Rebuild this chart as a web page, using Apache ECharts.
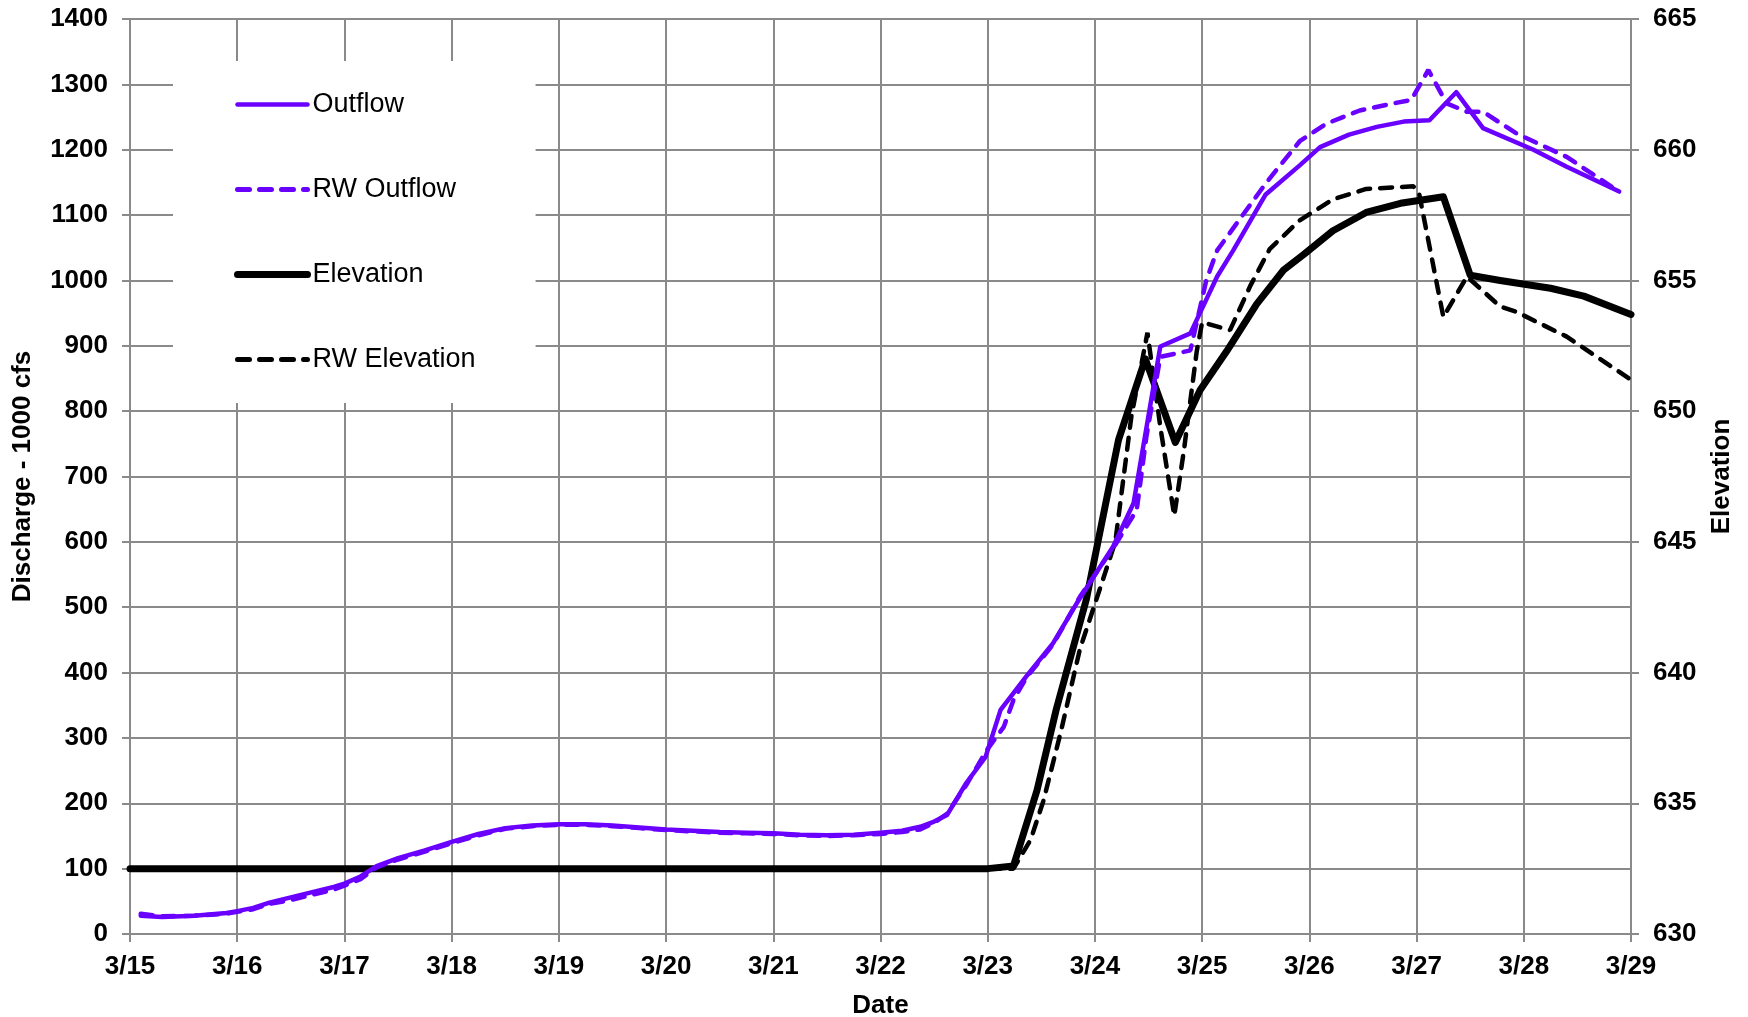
<!DOCTYPE html>
<html>
<head>
<meta charset="utf-8">
<script src="https://cdn.jsdelivr.net/npm/echarts@6/dist/echarts.min.js"></script>
<style>
  html, body { margin: 0; padding: 0; background: #fff; }
  #chart { width: 1748px; height: 1017px; }
</style>
</head>
<body>
<div id="chart"></div>
<script>
// x values are days after 3/15
var dateLabels = ['3/15', '3/16', '3/17', '3/18', '3/19', '3/20', '3/21', '3/22',
  '3/23', '3/24', '3/25', '3/26', '3/27', '3/28', '3/29'];

var outflowDays = [0.1, 0.3, 0.6, 0.9, 1.0, 1.15, 1.3, 1.5, 1.7, 1.9, 2.0, 2.15, 2.3, 2.5, 2.75,
  3.0, 3.25, 3.5, 3.75, 4.0, 4.25, 4.5, 4.75, 5.0, 5.25, 5.5, 5.75, 6.0, 6.25, 6.5, 6.75,
  7.0, 7.2, 7.37, 7.5, 7.62, 7.8, 7.98, 8.12, 8.36, 8.61, 8.83, 9.17, 9.36, 9.61, 9.89,
  10.14, 10.29, 10.59, 10.91, 11.1, 11.37, 11.63, 11.88, 12.12, 12.37, 12.62, 13.09, 13.4, 13.89];
var outflow = [28, 26, 28, 32, 35, 40, 48, 56, 64, 72, 77, 88, 104, 116, 128,
  141, 153, 162, 166, 168, 168, 166, 163, 160, 158, 156, 155, 154, 152, 151, 152,
  155, 158, 164, 172, 182, 231, 271, 343, 394, 445, 506, 593, 659, 899, 919,
  1006, 1046, 1131, 1176, 1204, 1223, 1235, 1243, 1245, 1288, 1233, 1200, 1174, 1136];

var rwOutflowDays = [0.1, 0.3, 0.6, 0.9, 1.0, 1.15, 1.3, 1.5, 1.7, 1.9, 2.0, 2.15, 2.3, 2.5, 2.75,
  3.0, 3.25, 3.5, 3.75, 4.0, 4.25, 4.5, 4.75, 5.0, 5.25, 5.5, 5.75, 6.0, 6.25, 6.5, 6.75,
  7.0, 7.2, 7.37, 7.5, 7.62, 7.8, 7.99, 8.15, 8.24, 8.36, 8.61, 8.86, 9.2, 9.39, 9.48, 9.61, 9.89,
  10.04, 10.14, 10.6, 10.91, 11.16, 11.47, 11.82, 11.95, 12.11, 12.28, 12.47, 12.62, 12.93, 13.4, 13.87];
var rwOutflow = [31, 27, 28, 31, 34, 38, 46, 52, 60, 68, 74, 84, 102, 114, 126,
  139, 151, 161, 165, 167, 167, 165, 162, 159, 157, 155, 154, 153, 151, 150, 151,
  153, 156, 160, 170, 184, 228, 281, 317, 358, 392, 443, 516, 598, 649, 761, 883, 893,
  1001, 1046, 1150, 1213, 1240, 1260, 1272, 1276, 1322, 1271, 1258, 1258, 1225, 1189, 1138];

var elevationDays = [0, 8.0, 8.24, 8.46, 8.64, 8.92, 9.22, 9.47, 9.75, 9.98, 10.23, 10.51, 10.76,
  10.95, 11.22, 11.53, 11.85, 12.25, 12.5, 12.78, 13.25, 13.56, 14.0];
var elevation = [632.5, 632.5, 632.6, 635.5, 638.6, 642.8, 648.9, 652.0, 648.8, 650.8, 652.3, 654.1, 655.4,
  656.0, 656.9, 657.6, 657.95, 658.2, 655.2, 655.0, 654.7, 654.4, 653.7];

var rwElevationDays = [0, 8.24, 8.4, 8.52, 8.68, 8.86, 9.03, 9.19, 9.34, 9.49, 9.61, 9.74, 9.83, 9.95,
  10.0, 10.26, 10.45, 10.63, 10.91, 11.22, 11.53, 11.97, 12.02, 12.25, 12.47, 12.78, 12.93, 13.4, 14.0];
var rwElevation = [632.5, 632.5, 633.6, 635.1, 637.7, 640.9, 643.0, 645.0, 649.8, 653.0, 649.4, 646.0, 648.5, 652.3,
  653.4, 653.1, 654.8, 656.2, 657.3, 658.1, 658.5, 658.6, 658.4, 653.6, 655.15, 654.0, 653.8, 652.85, 651.2];

function pairs(xs, ys) {
  return xs.map(function (x, i) { return [x, ys[i]]; });
}

var purple = '#6a00ff';
var gridColor = '#8a8a8a';
var fontFam = '"Liberation Sans", Arial, sans-serif';
var dash = [12, 10];

var chart = echarts.init(document.getElementById('chart'));

var tickFont = { fontFamily: fontFam, fontSize: 26, fontWeight: 'bold', color: '#000' };
var nameFont = { fontFamily: fontFam, fontSize: 26, fontWeight: 'bold', color: '#000' };

var option = {
  backgroundColor: '#fff',
  animation: false,
  grid: { left: 130, right: 117, top: 19, bottom: 83, outerBoundsMode: 'none' },
  legend: {
    orient: 'vertical',
    left: 173,
    top: 61,
    padding: [30, 60, 30, 61],
    backgroundColor: '#fff',
    itemWidth: 70,
    itemHeight: 14,
    itemGap: 58,
    itemStyle: { opacity: 0 },
    textStyle: { fontFamily: fontFam, fontSize: 27, color: '#000' },
    data: [
      { name: 'Outflow', lineStyle: { width: 4.5 } },
      { name: 'RW Outflow', lineStyle: { width: 5 } },
      { name: 'Elevation', lineStyle: { width: 7 } },
      { name: 'RW Elevation', lineStyle: { width: 5 } }
    ]
  },
  xAxis: {
    type: 'value',
    min: 0,
    max: 14,
    interval: 1,
    name: 'Date',
    nameLocation: 'middle',
    nameGap: 59,
    nameTextStyle: nameFont,
    axisLine: { lineStyle: { color: gridColor, width: 2 } },
    axisTick: { show: true, length: 8, lineStyle: { color: gridColor, width: 2 } },
    axisLabel: Object.assign({
      margin: 20,
      formatter: function (v) { return dateLabels[Math.round(v)]; }
    }, tickFont),
    splitLine: { show: true, lineStyle: { color: gridColor, width: 2 } }
  },
  yAxis: [{
    type: 'value',
    min: 0,
    max: 1400,
    interval: 100,
    name: 'Discharge - 1000 cfs',
    nameLocation: 'middle',
    nameGap: 94,
    nameTextStyle: nameFont,
    axisLine: { show: true, lineStyle: { color: gridColor, width: 2 } },
    axisTick: { show: true, length: 8, lineStyle: { color: gridColor, width: 2 } },
    axisLabel: Object.assign({ margin: 22, formatter: function (v) { return String(v); } }, tickFont),
    splitLine: { show: true, lineStyle: { color: gridColor, width: 2 } }
  }, {
    type: 'value',
    min: 630,
    max: 665,
    interval: 5,
    name: 'Elevation',
    nameLocation: 'middle',
    nameGap: 78,
    nameTextStyle: nameFont,
    axisLine: { show: true, lineStyle: { color: gridColor, width: 2 } },
    axisTick: { show: true, length: 8, lineStyle: { color: gridColor, width: 2 } },
    axisLabel: Object.assign({ margin: 22, formatter: function (v) { return String(v); } }, tickFont),
    splitLine: { show: false }
  }],
  series: [{
    name: 'RW Elevation',
    type: 'line',
    yAxisIndex: 1,
    symbol: 'none',
    data: pairs(rwElevationDays, rwElevation),
    itemStyle: { color: '#000' },
    lineStyle: { color: '#000', width: 4.5, type: dash, cap: 'round' }
  }, {
    name: 'Elevation',
    type: 'line',
    yAxisIndex: 1,
    symbol: 'none',
    data: pairs(elevationDays, elevation),
    itemStyle: { color: '#000' },
    lineStyle: { color: '#000', width: 7, cap: 'round', join: 'round' }
  }, {
    name: 'RW Outflow',
    type: 'line',
    symbol: 'none',
    data: pairs(rwOutflowDays, rwOutflow),
    itemStyle: { color: purple },
    lineStyle: { color: purple, width: 4.5, type: dash, cap: 'round' }
  }, {
    name: 'Outflow',
    type: 'line',
    symbol: 'none',
    data: pairs(outflowDays, outflow),
    itemStyle: { color: purple },
    lineStyle: { color: purple, width: 4.5, cap: 'round', join: 'round' }
  }]
};

chart.setOption(option);
</script>
</body>
</html>
